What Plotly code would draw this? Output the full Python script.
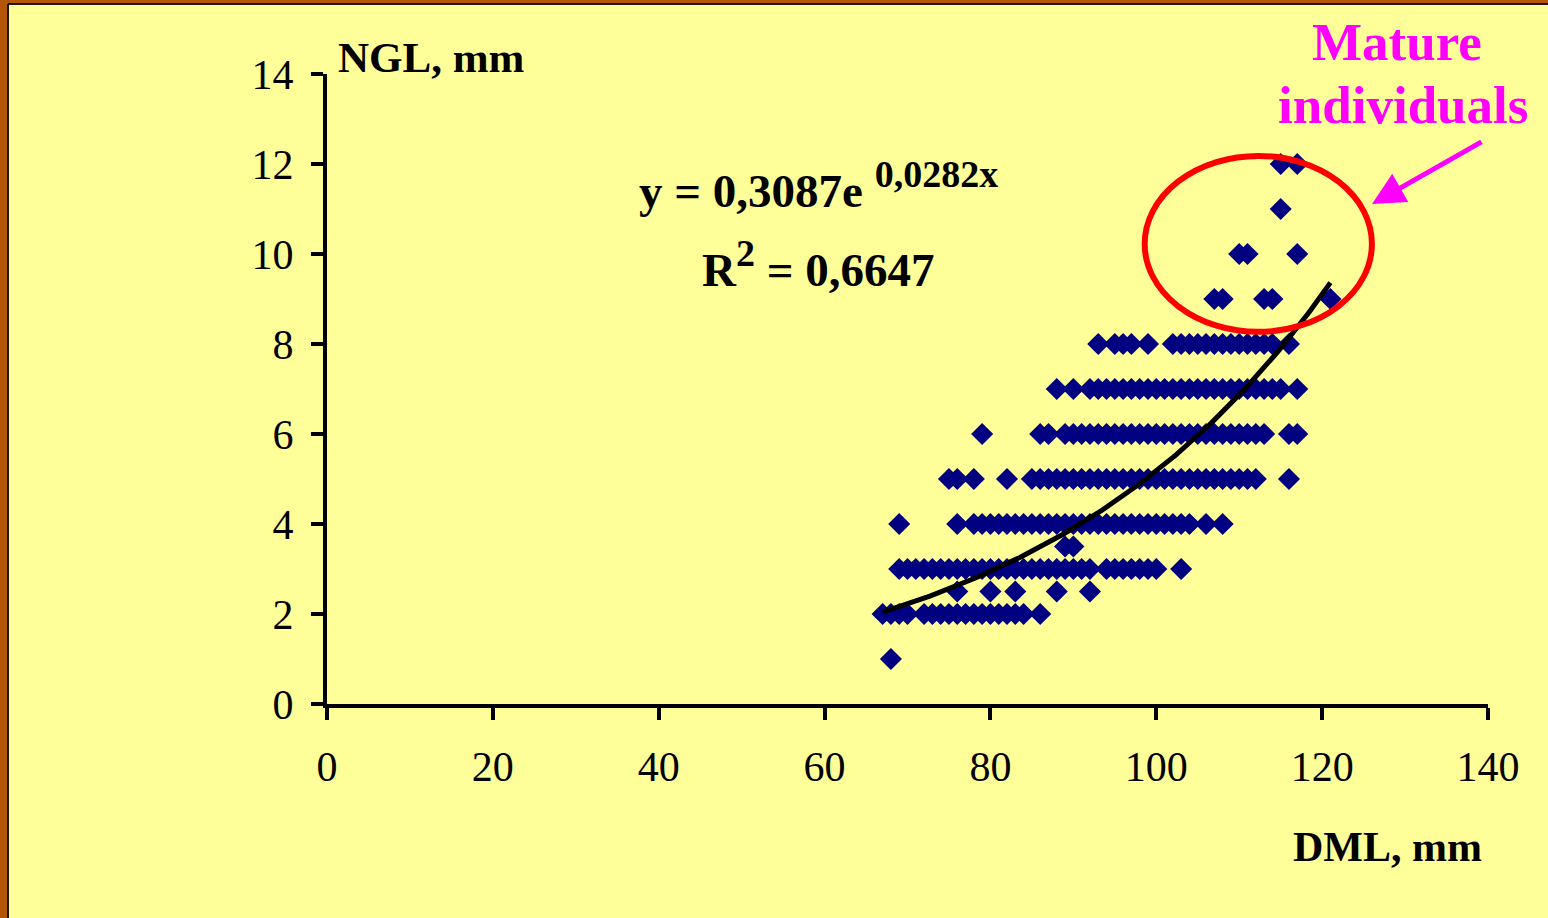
import numpy as np
import plotly.graph_objects as go

# ---- data: DML (mm) values observed at each NGL level (mm) ----
ngl_levels = [1, 2, 2.5, 3, 3.5, 4, 5, 6, 7, 8, 9, 10, 11, 12]
dml_ngl_1 = [68]
dml_ngl_2 = [67, 68, 69, 70, 72, 73, 74, 75, 76, 77, 78, 79, 80, 81, 82, 83, 84, 86]
dml_ngl_2_5 = [76, 80, 83, 88, 92]
dml_ngl_3 = [69, 70, 71, 72, 73, 74, 75, 76, 77, 78, 79, 80, 81, 82, 83, 84, 85, 86,
             87, 88, 89, 90, 91, 92, 94, 95, 96, 97, 98, 99, 100, 103]
dml_ngl_3_5 = [89, 90]
dml_ngl_4 = [69, 76, 78, 79, 80, 81, 82, 83, 84, 85, 86, 87, 88, 89, 90, 91, 92, 93,
             94, 95, 96, 97, 98, 99, 100, 101, 102, 103, 104, 106, 108]
dml_ngl_5 = [75, 76, 78, 82, 85, 86, 87, 88, 89, 90, 91, 92, 93, 94, 95, 96, 97, 98,
             99, 100, 101, 102, 103, 104, 105, 106, 107, 108, 109, 110, 111, 112, 116]
dml_ngl_6 = [79, 86, 87, 89, 90, 91, 92, 93, 94, 95, 96, 97, 98, 99, 100, 101, 102,
             103, 104, 105, 106, 107, 108, 109, 110, 111, 112, 113, 116, 117]
dml_ngl_7 = [88, 90, 92, 93, 94, 95, 96, 97, 98, 99, 100, 101, 102, 103, 104, 105,
             106, 107, 108, 109, 110, 111, 112, 113, 114, 115, 117]
dml_ngl_8 = [93, 95, 96, 97, 99, 102, 103, 104, 105, 106, 107, 108, 109, 110, 111,
             112, 113, 114, 116]
dml_ngl_9 = [107, 108, 113, 114, 121]
dml_ngl_10 = [110, 111, 117]
dml_ngl_11 = [115]
dml_ngl_12 = [115, 117]

dml_groups = [dml_ngl_1, dml_ngl_2, dml_ngl_2_5, dml_ngl_3, dml_ngl_3_5, dml_ngl_4,
              dml_ngl_5, dml_ngl_6, dml_ngl_7, dml_ngl_8, dml_ngl_9, dml_ngl_10,
              dml_ngl_11, dml_ngl_12]

# exponential trendline coefficients as printed on the chart
fit_a = 0.3087
fit_b = 0.0282
fit_r2 = "0,6647"

x_ticks = [0, 20, 40, 60, 80, 100, 120, 140]
y_ticks = [0, 2, 4, 6, 8, 10, 12, 14]

xs, ys = [], []
for lvl, grp in zip(ngl_levels, dml_groups):
    xs.extend(grp)
    ys.extend([lvl] * len(grp))

trend_x = np.linspace(min(xs), max(xs), 200)
trend_y = fit_a * np.exp(fit_b * trend_x)

SERIF = "Times New Roman, Liberation Serif, serif"
YELLOW = "#FFFF99"
NAVY = "#000080"
MAGENTA = "#FF00FF"

fig = go.Figure()
fig.add_trace(go.Scatter(
    x=xs, y=ys, mode="markers",
    marker=dict(symbol="diamond", size=17, color=NAVY, line=dict(width=0)),
    cliponaxis=False, showlegend=False, hoverinfo="x+y"))
fig.add_trace(go.Scatter(
    x=trend_x, y=trend_y, mode="lines",
    line=dict(color="black", width=5), showlegend=False, hoverinfo="skip"))

# plot area geometry (pixels)
W, H = 1548, 918
L, R, T, B = 327, 60, 74, 214
pw, ph = W - L - R, H - T - B

def px_to_paper_x(p):
    return (p - L) / pw

def py_to_paper_y(p):
    return (H - B - p) / ph

shapes = []
# brown slide frame strips (left & top)
shapes.append(dict(type="rect", xref="paper", yref="paper",
                   x0=px_to_paper_x(-2), x1=px_to_paper_x(8),
                   y0=py_to_paper_y(H + 2), y1=py_to_paper_y(-2),
                   fillcolor="#B35608", line=dict(width=0), layer="above"))
shapes.append(dict(type="rect", xref="paper", yref="paper",
                   x0=px_to_paper_x(-2), x1=px_to_paper_x(W + 2),
                   y0=py_to_paper_y(4), y1=py_to_paper_y(-2),
                   fillcolor="#B35608", line=dict(width=0), layer="above"))
shapes.append(dict(type="line", xref="paper", yref="paper",
                   x0=px_to_paper_x(8), x1=px_to_paper_x(8),
                   y0=py_to_paper_y(H + 2), y1=py_to_paper_y(4),
                   line=dict(color="#1a1a1a", width=2), layer="above"))
shapes.append(dict(type="line", xref="paper", yref="paper",
                   x0=px_to_paper_x(8), x1=px_to_paper_x(W + 2),
                   y0=py_to_paper_y(4), y1=py_to_paper_y(4),
                   line=dict(color="#1a1a1a", width=2), layer="above"))
# red ellipse around mature individuals
shapes.append(dict(type="circle", xref="x", yref="y",
                   x0=98.6, x1=126.0, y0=8.27, y1=12.18,
                   line=dict(color="#FF0000", width=6)))

SUP = '<span style="font-size:38px">{}</span>'

annotations = [
    dict(text="<b>NGL, mm</b>", xref="paper", yref="paper",
         x=px_to_paper_x(336), y=py_to_paper_y(57), xanchor="left", yanchor="middle",
         showarrow=False, font=dict(family=SERIF, size=43, color="black")),
    dict(text="<b>DML, mm</b>", xref="paper", yref="paper",
         x=px_to_paper_x(1484), y=py_to_paper_y(847), xanchor="right", yanchor="middle",
         showarrow=False, font=dict(family=SERIF, size=42, color="black")),
    dict(text="<b>y = 0,3087e <sup>" + SUP.format("0,0282x") + "</sup></b>",
         xref="paper", yref="paper",
         x=px_to_paper_x(818), y=py_to_paper_y(185), xanchor="center", yanchor="middle",
         showarrow=False, font=dict(family=SERIF, size=47, color="black")),
    dict(text="<b>R<sup>" + SUP.format("2") + "</sup> = " + fit_r2 + "</b>",
         xref="paper", yref="paper",
         x=px_to_paper_x(818), y=py_to_paper_y(264), xanchor="center", yanchor="middle",
         showarrow=False, font=dict(family=SERIF, size=47, color="black")),
    dict(text="<b>Mature</b>", xref="paper", yref="paper",
         x=px_to_paper_x(1397), y=py_to_paper_y(42), xanchor="center", yanchor="middle",
         showarrow=False, font=dict(family=SERIF, size=53, color=MAGENTA)),
    dict(text="<b>individuals</b>", xref="paper", yref="paper",
         x=px_to_paper_x(1403), y=py_to_paper_y(105), xanchor="center", yanchor="middle",
         showarrow=False, font=dict(family=SERIF, size=53, color=MAGENTA)),
    dict(text="", xref="paper", yref="paper",
         x=px_to_paper_x(1372), y=py_to_paper_y(204),
         ax=111, ay=-63, axref="pixel", ayref="pixel",
         showarrow=True, arrowhead=2, arrowsize=1.3, arrowwidth=5,
         arrowcolor=MAGENTA),
]

axis_common = dict(
    showgrid=False, zeroline=False, showline=True, linecolor="black", linewidth=4,
    ticks="outside", ticklen=12, tickwidth=4, tickcolor="black",
    tickfont=dict(family=SERIF, size=42, color="black"),
)

fig.update_layout(
    width=W, height=H,
    margin=dict(l=L, r=R, t=T, b=B, pad=0),
    paper_bgcolor=YELLOW, plot_bgcolor=YELLOW,
    xaxis=dict(range=[0, 140], tickvals=x_ticks, ticklabelstandoff=11, **axis_common),
    yaxis=dict(range=[0, 14], tickvals=y_ticks, ticklabelstandoff=9, **axis_common),
    shapes=shapes, annotations=annotations, showlegend=False,
)

fig.write_html(
    "out.html",
    config={"displayModeBar": False},
    post_script="document.body.style.margin='0';document.body.style.overflow='hidden';",
)
